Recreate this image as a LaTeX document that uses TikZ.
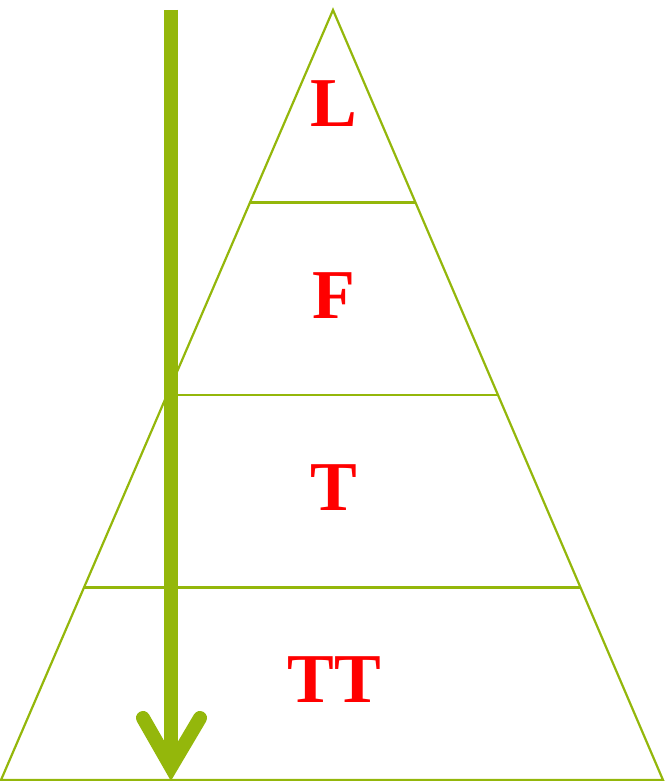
\documentclass[tikz,border=0pt]{standalone}
\usepackage{fontspec}
\setmainfont{Liberation Serif}
\usetikzlibrary{calc}
\definecolor{pyrgreen}{RGB}{148,183,11}
\definecolor{pyrred}{RGB}{255,0,0}

\begin{document}
\begin{tikzpicture}[
x=1pt, y=-1pt,
edge/.style={draw=pyrgreen, line width=2.2pt},
level/.style={text=pyrred, font=\fontsize{70}{78}\selectfont\bfseries, inner sep=0pt},
shaft/.style={draw=pyrgreen, line width=14pt},
barb/.style={draw=pyrgreen, line width=14pt, line cap=round, line join=miter}
]
\useasboundingbox (0,0) rectangle (664,781);

\coordinate (apex) at (333,10);
\coordinate (bl) at (1,780);
\coordinate (br) at (663,780);

% pyramid and its levels
\draw[edge] (bl) -- (apex) -- (br) -- cycle;
\foreach \f in {0.25,0.5,0.75}
  \draw[edge] ($(apex)!\f!(bl)$) -- ($(apex)!\f!(br)$);

\node[level] (lvl_l) at (334,104) {L};
\node[level] (lvl_f) at (334,296) {F};
\node[level] (lvl_t) at (334,488) {T};
\node[level] (lvl_tt) at (334,680) {TT};

% downward arrow
\coordinate (arr_top) at (171,10);
\coordinate (arr_tip) at (171,767);
\draw[shaft] (arr_top) -- (arr_tip);
\draw[barb] (143,718) -- (arr_tip) -- (200,718);

\end{tikzpicture}
\end{document}
